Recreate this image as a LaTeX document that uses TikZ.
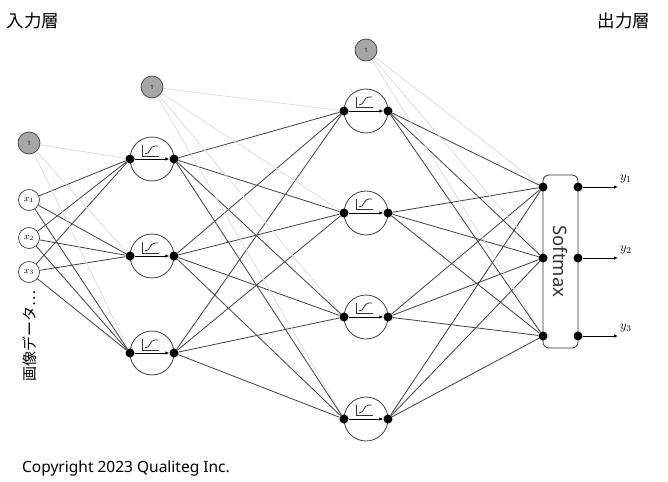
\documentclass[tikz,border=0pt]{standalone}
\usepackage{fontspec}
\usepackage{fix-cm}
\setmainfont{Noto Sans}
\newfontfamily\jpfont{Noto Sans CJK JP}
\usetikzlibrary{arrows.meta}
\usetikzlibrary{backgrounds}

\tikzset{
  unit/.style={draw=black!75,circle,minimum size=44pt,inner sep=0pt,line width=0.8pt},
  dot/.style={fill=black,circle,minimum size=9pt,inner sep=0pt},
  innode/.style={draw=black!75,fill=white,circle,minimum size=21pt,inner sep=0pt,line width=0.7pt,font=\fontsize{9.5}{9.5}\selectfont},
  bias/.style={innode,fill=black!35,minimum size=22pt,font=\fontsize{6}{6}\selectfont},
  wire/.style={draw=black!75,line width=0.8pt},
  biaswire/.style={draw=black!13,line width=0.8pt},
  sig/.style={draw=black!80,line width=0.8pt},
}

\begin{document}
\begin{tikzpicture}[x=1pt,y=-1pt]
\useasboundingbox (0,0) rectangle (668,481);

% labels
\node (inlabel) at (33,21) {\jpfont\fontsize{17.5}{17.5}\selectfont 入力層};
\node (outlabel) at (624,21) {\jpfont\fontsize{17.5}{17.5}\selectfont 出力層};
\node (copy) at (126,468) {\fontsize{15.5}{16}\selectfont Copyright 2023 Qualiteg Inc.};
\node[rotate=90] (data) at (30,336) {\jpfont\fontsize{15}{15}\selectfont 画像データ…};

% input layer
\node[bias] (b1) at (29,143) {1};
\node[innode] (x1) at (29,200) {$x_1$};
\node[innode] (x2) at (29,238) {$x_2$};
\node[innode] (x3) at (29,272) {$x_3$};
\node[bias] (b2) at (152,87) {1};
\node[bias] (b3) at (366,50) {1};

% hidden layer 1
\foreach \i/\y in {1/159,2/256,3/353}{
  \node[unit] (h1c\i) at (152,\y) {};
  \node[dot] (h1l\i) at (130,\y) {};
  \node[dot] (h1r\i) at (174,\y) {};
  \draw[-{Latex[length=4pt,width=3.5pt]},line width=0.8pt] (h1l\i) -- (h1r\i);
  \draw[sig] (142,\y-14) |- (159,\y-3);
  \draw[sig] (145,\y-5) .. controls (151,\y-5) and (149,\y-13) .. (155,\y-13) -- (158,\y-13);
}

% hidden layer 2
\foreach \i/\y in {1/111,2/213,3/317,4/419}{
  \node[unit] (h2c\i) at (366,\y) {};
  \node[dot] (h2l\i) at (344,\y) {};
  \node[dot] (h2r\i) at (388,\y) {};
  \draw[-{Latex[length=4pt,width=3.5pt]},line width=0.8pt] (h2l\i) -- (h2r\i);
  \draw[sig] (356,\y-14) |- (373,\y-4);
  \draw[sig] (359,\y-6) .. controls (365,\y-6) and (363,\y-14) .. (369,\y-14) -- (372,\y-14);
}

% softmax
\node[draw=black!80,line width=0.8pt,rounded corners=6pt,rotate=-90,minimum width=173pt,minimum height=35pt,
  text=black!80,font=\fontsize{18.5}{18.5}\selectfont] (soft) at (560.5,261.5) {Softmax};
\foreach \i/\y in {1/187,2/258,3/336}{
  \node[dot] (ol\i) at (543,\y) {};
  \node[dot] (or\i) at (578,\y) {};
  \coordinate (y\i) at (618,\y);
  \draw[-{Latex[length=4pt,width=3.5pt]},line width=0.8pt] (or\i) -- (y\i);
  \node[anchor=south west,inner sep=1pt,font=\fontsize{13}{13}\selectfont] (ylab\i) at (619,\y-3) {$y_\i$};
}

% connectors
\begin{scope}[on background layer]
\foreach \j in {1,2,3}{
  \draw[biaswire] (b1) -- (h1l\j);
  \foreach \i in {1,2,3}
    \draw[wire] (x\i) -- (h1l\j);
}
\foreach \j in {1,2,3,4}{
  \draw[biaswire] (b2) -- (h2l\j);
  \foreach \i in {1,2,3}
    \draw[wire] (h1r\i) -- (h2l\j);
}
\foreach \j in {1,2,3}{
  \draw[biaswire] (b3) -- (ol\j);
  \foreach \i in {1,2,3,4}
    \draw[wire] (h2r\i) -- (ol\j);
}
\end{scope}
\end{tikzpicture}
\end{document}
